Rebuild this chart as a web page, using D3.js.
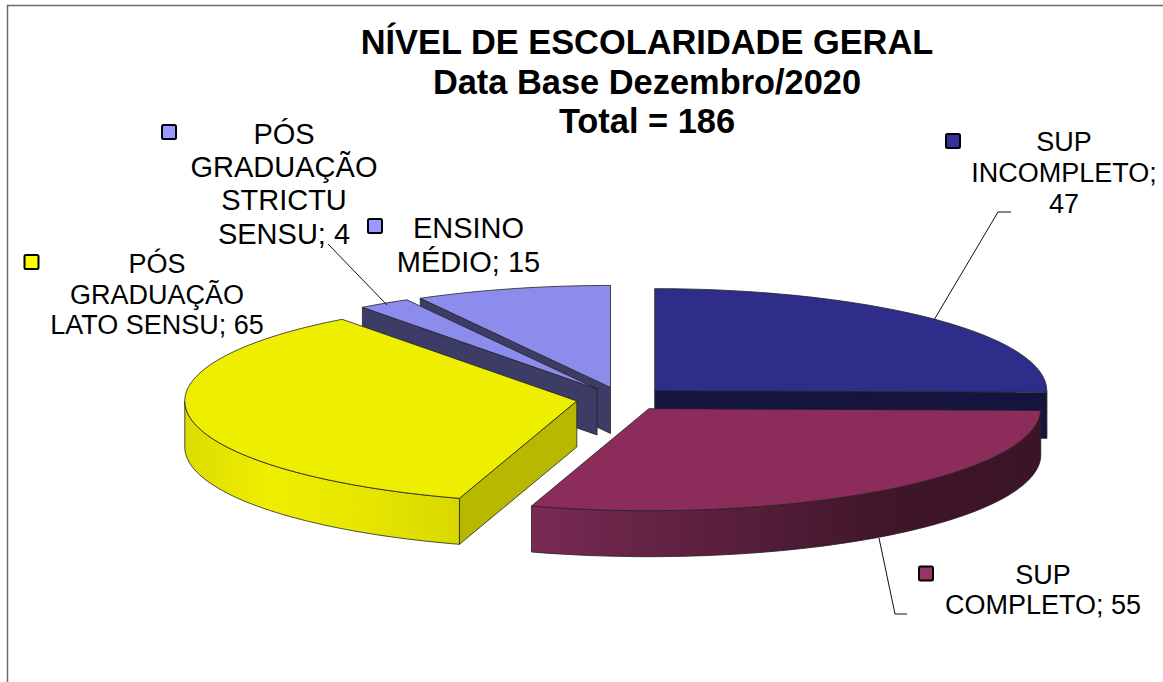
<!DOCTYPE html>
<html>
<head>
<meta charset="utf-8">
<script src="https://d3js.org/d3.v7.min.js"></script>
<style>
    body { margin: 0; background: #fff; }
    text { font-family: "Liberation Sans", Arial, sans-serif; fill: #000; }
</style>
</head>
<body>
<div id="chart-area"></div>
<script>
// series, in the order the pie runs clockwise from 12 o'clock
var categories = ["SUP INCOMPLETO", "SUP COMPLETO", "PÓS GRADUAÇÃO LATO SENSU", "PÓS GRADUAÇÃO STRICTU SENSU", "ENSINO MÉDIO"];
var values = [47, 55, 65, 4, 15];
var labelLines = [
    ["SUP", "INCOMPLETO;", "47"],
    ["SUP", "COMPLETO; 55"],
    ["PÓS", "GRADUAÇÃO", "LATO SENSU; 65"],
    ["PÓS", "GRADUAÇÃO", "STRICTU", "SENSU; 4"],
    ["ENSINO", "MÉDIO; 15"]
];
var titleLines = ["NÍVEL DE ESCOLARIDADE GERAL", "Data Base Dezembro/2020", "Total = 186"];

// styles
var topColors = ["#2e2e8a", "#8b2c5b", "#eeee00", "#8c8cec", "#8c8cec"];
var markerColors = ["#333399", "#993366", "#ffff00", "#9999ff", "#9999ff"];
var faceColors = ["#14143f", "#3f1528", "#b8b800", "#3c3c66", "#3c3c66"];
var sideStops = [
    [[0, "#14143f"], [1, "#14143f"]],
    [[0, "#782a53"], [0.68, "#41162a"], [1, "#3b1426"]],
    [[0, "#dcdc00"], [0.3, "#eeee00"], [0.6, "#e8e800"], [1, "#d8d800"]],
    [[0, "#3c3c66"], [1, "#3c3c66"]],
    [[0, "#3c3c66"], [1, "#3c3c66"]]
];

// layout of the labels
var labelCenters = [[1064, 141.5], [1043, 574.5], [157, 264], [284, 133.5], [468.5, 228]];
var lineSteps = [31, 30.5, 30.5, 33.4, 33.5];
var labelSizes = [27, 27, 27, 29, 29];
var markers = [[953, 141], [926, 573.5], [31.5, 262], [169, 132], [375, 226]];
var leaders = [
    [[1011, 212], [998, 212], [934, 320]],
    [[879, 538], [895, 614], [907, 614]],
    null,
    [[328, 244], [387, 305]],
    null
];

var width = 1163, height = 682;
var depth = 46, explode = 0.117;
var drawOrder = [0, 4, 3, 2, 1];

// unit circle -> squashed ellipse on the page
var x = d3.scaleLinear().domain([-1, 1]).range([622 - 392, 622 + 392]);
var y = d3.scaleLinear().domain([-1, 1]).range([399 - 102, 399 + 102]);

var svg = d3.select("#chart-area")
    .append("svg")
    .attr("width", width)
    .attr("height", height);

var defs = svg.append("defs");
sideStops.forEach(function(stops, i) {
    var grad = defs.append("linearGradient").attr("id", "side" + i);
    stops.forEach(function(s) {
        grad.append("stop").attr("offset", s[0]).attr("stop-color", s[1]);
    });
});

// chart frame, only top and left are in the shot
svg.append("path")
    .attr("d", "M7.5,682V5.5H1163")
    .attr("fill", "none")
    .attr("stroke", "#6a6a6a")
    .attr("stroke-width", 1.5);

var pie = d3.pie().sort(null).value(function(d) { return d; });
var arcs = pie(values);

var line = d3.line()
    .x(function(p) { return x(p[0]); })
    .y(function(p) { return y(p[1]); });

function point(a, r, mid) {
    return [r * Math.sin(a) + explode * Math.sin(mid), -r * Math.cos(a) - explode * Math.cos(mid)];
}

function arcPoints(a0, a1, mid) {
    var n = Math.max(2, Math.ceil((a1 - a0) * 40));
    return d3.range(n + 1).map(function(i) {
        return point(a0 + (a1 - a0) * i / n, 1, mid);
    });
}

var edge = "#222";

drawOrder.forEach(function(i) {
    var d = arcs[i];
    var mid = (d.startAngle + d.endAngle) / 2;
    var g = svg.append("g");
    var apex = point(0, 0, mid);
    var p0 = [x(apex[0]), y(apex[1])];

    // flat cut faces, just the ones turned towards the viewer
    var cuts = [];
    if (Math.sin(d.startAngle) < -1e-6) cuts.push(d.startAngle);
    if (Math.sin(d.endAngle) > 1e-6) cuts.push(d.endAngle);
    cuts.forEach(function(a) {
        var rim = point(a, 1, mid);
        var p1 = [x(rim[0]), y(rim[1])];
        g.append("path")
            .attr("d", "M" + p0 + "L" + p1 + "L" + [p1[0], p1[1] + depth] + "L" + [p0[0], p0[1] + depth] + "Z")
            .attr("fill", faceColors[i])
            .attr("stroke", edge)
            .attr("stroke-width", 0.8);
    });

    // outer wall, only the front half of the ellipse shows
    var a0 = Math.max(d.startAngle, Math.PI / 2);
    var a1 = Math.min(d.endAngle, Math.PI * 1.5);
    if (a1 > a0) {
        var rim = arcPoints(a0, a1, mid);
        var rimBack = rim.slice().reverse();
        g.append("path")
            .attr("d", line(rim) + "L" + [x(rimBack[0][0]), y(rimBack[0][1]) + depth] +
                rimBack.slice(1).map(function(p) { return "L" + [x(p[0]), y(p[1]) + depth]; }).join("") + "Z")
            .attr("fill", "url(#side" + i + ")")
            .attr("stroke", edge)
            .attr("stroke-width", 0.8);
    }

    // top
    g.append("path")
        .attr("d", line([apex].concat(arcPoints(d.startAngle, d.endAngle, mid))) + "Z")
        .attr("fill", topColors[i])
        .attr("stroke", edge)
        .attr("stroke-width", 0.8);
});

// leader lines
leaders.forEach(function(l) {
    if (!l) return;
    svg.append("path")
        .attr("d", d3.line()(l))
        .attr("fill", "none")
        .attr("stroke", "#111")
        .attr("stroke-width", 1);
});

// title
svg.selectAll(".title")
    .data(titleLines)
    .enter()
    .append("text")
    .attr("class", "title")
    .attr("x", 647)
    .attr("y", function(d, i) { return 42 + i * 39.5; })
    .attr("dy", "0.35em")
    .attr("text-anchor", "middle")
    .attr("font-weight", "bold")
    .attr("font-size", 34.4)
    .text(function(d) { return d; });

// data labels with their legend keys
categories.forEach(function(c, i) {
    var g = svg.append("g").attr("class", "label").attr("data-category", c);
    g.append("rect")
        .attr("x", markers[i][0] - 7)
        .attr("y", markers[i][1] - 7)
        .attr("width", 14)
        .attr("height", 14)
        .attr("rx", 1.5)
        .attr("fill", markerColors[i])
        .attr("stroke", "#000")
        .attr("stroke-width", 2);
    g.selectAll("text")
        .data(labelLines[i])
        .enter()
        .append("text")
        .attr("x", labelCenters[i][0])
        .attr("y", function(d, k) { return labelCenters[i][1] + k * lineSteps[i]; })
        .attr("dy", "0.35em")
        .attr("text-anchor", "middle")
        .attr("font-size", labelSizes[i])
        .text(function(d) { return d; });
});
</script>
</body>
</html>
